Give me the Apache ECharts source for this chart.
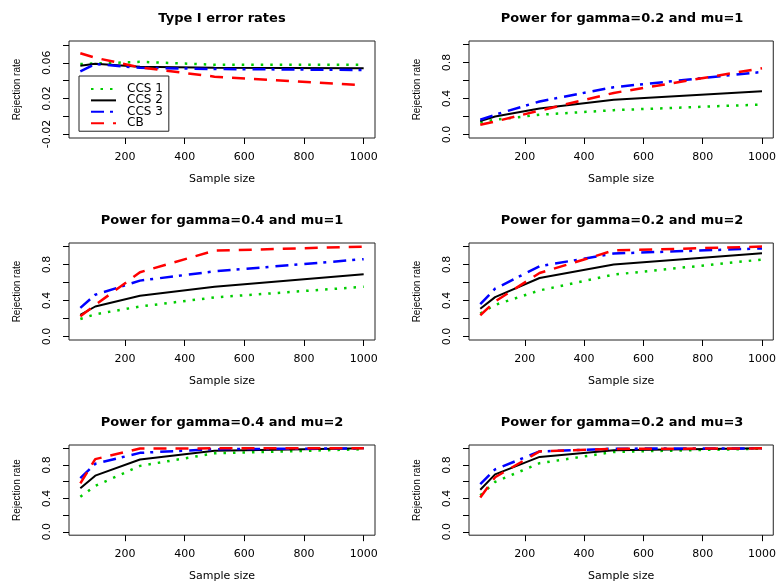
<html>

<head>
  <script src="https://cdn.jsdelivr.net/npm/echarts@6/dist/echarts.min.js"></script>
</head>

<body style="margin:0">
  <div id="main" style="width: 779px;height:588px;"></div>
  <script>
    var sampleSizes = [50, 100, 250, 500, 1000];
    var seriesNames = ['CCS 1', 'CCS 2', 'CCS 3', 'CB'];
    var panelTitles = ['Type I error rates', 'Power for gamma=0.2 and mu=1',
      'Power for gamma=0.4 and mu=1', 'Power for gamma=0.2 and mu=2',
      'Power for gamma=0.4 and mu=2', 'Power for gamma=0.2 and mu=3'];

    // type I error
    var ccs1_t1 = [0.0585, 0.0592, 0.0610, 0.0578, 0.0578];
    var ccs2_t1 = [0.0567, 0.0589, 0.0556, 0.0544, 0.0537];
    var ccs3_t1 = [0.0504, 0.0585, 0.0544, 0.0530, 0.0519];
    var cb_t1 = [0.0707, 0.0656, 0.0548, 0.0444, 0.0348];
    // gamma=0.2 mu=1
    var ccs1_g2m1 = [0.133, 0.163, 0.219, 0.270, 0.333];
    var ccs2_g2m1 = [0.148, 0.200, 0.289, 0.385, 0.481];
    var ccs3_g2m1 = [0.163, 0.219, 0.367, 0.526, 0.695];
    var cb_g2m1 = [0.107, 0.144, 0.265, 0.462, 0.737];
    // gamma=0.4 mu=1
    var ccs1_g4m1 = [0.194, 0.247, 0.333, 0.434, 0.553];
    var ccs2_g4m1 = [0.239, 0.333, 0.452, 0.553, 0.692];
    var ccs3_g4m1 = [0.318, 0.464, 0.621, 0.725, 0.860];
    var cb_g4m1 = [0.224, 0.350, 0.714, 0.955, 1.000];
    // gamma=0.2 mu=2
    var ccs1_g2m2 = [0.254, 0.351, 0.512, 0.688, 0.856];
    var ccs2_g2m2 = [0.307, 0.437, 0.650, 0.800, 0.927];
    var ccs3_g2m2 = [0.359, 0.531, 0.781, 0.923, 0.980];
    var cb_g2m2 = [0.236, 0.389, 0.706, 0.957, 1.000];
    // gamma=0.4 mu=2
    var ccs1_g4m2 = [0.420, 0.550, 0.790, 0.940, 0.990];
    var ccs2_g4m2 = [0.523, 0.673, 0.867, 0.972, 1.000];
    var ccs3_g4m2 = [0.643, 0.815, 0.946, 0.990, 1.000];
    var cb_g4m2 = [0.580, 0.871, 0.998, 1.000, 1.000];
    // gamma=0.2 mu=3
    var ccs1_g2m3 = [0.437, 0.598, 0.822, 0.957, 0.996];
    var ccs2_g2m3 = [0.505, 0.688, 0.897, 0.978, 1.000];
    var ccs3_g2m3 = [0.572, 0.748, 0.963, 0.996, 1.000];
    var cb_g2m3 = [0.411, 0.654, 0.963, 0.993, 1.000];

    var xTicks = [200, 400, 600, 800, 1000];
    var typeITicks = [-0.02, 0, 0.02, 0.04, 0.06, 0.08];
    var typeILabels = [-0.02, 0.02, 0.06];
    var powerTicks = [0, 0.2, 0.4, 0.6, 0.8, 1.0];
    var powerLabels = [0, 0.4, 0.8];

    var panelData = [
      [ccs1_t1, ccs2_t1, ccs3_t1, cb_t1],
      [ccs1_g2m1, ccs2_g2m1, ccs3_g2m1, cb_g2m1],
      [ccs1_g4m1, ccs2_g4m1, ccs3_g4m1, cb_g4m1],
      [ccs1_g2m2, ccs2_g2m2, ccs3_g2m2, cb_g2m2],
      [ccs1_g4m2, ccs2_g4m2, ccs3_g4m2, cb_g4m2],
      [ccs1_g2m3, ccs2_g2m3, ccs3_g2m3, cb_g2m3]
    ];

    var lineStyles = [
      { color: '#00CD00', width: 2.5, type: [2.5, 7] },
      { color: '#000000', width: 2, type: 'solid' },
      { color: '#0000FF', width: 2.5, type: [13, 6, 3, 7] },
      { color: '#FF0000', width: 2.5, type: [13, 9] }
    ];

    var font = 'DejaVu Sans';
    var rowTops = [41, 243, 445];
    var colLefts = [69, 469];
    var gridW = 306, gridH = 97;

    var grids = [], xAxes = [], yAxes = [], titles = [], seriesList = [];

    for (var i = 0; i < 6; i++) {
      var r = Math.floor(i / 2), c = i % 2;
      var isTypeI = i === 0;
      grids.push({
        left: colLefts[c], top: rowTops[r], width: gridW, height: gridH,
        show: true, borderColor: '#222', borderWidth: 1, backgroundColor: 'transparent'
      });
      titles.push({
        text: panelTitles[i],
        left: colLefts[c] + gridW / 2,
        top: rowTops[r] - 36,
        textAlign: 'center',
        padding: 0,
        textStyle: { fontFamily: font, fontWeight: 'bold', fontSize: 13, color: '#000' }
      });
      xAxes.push({
        type: 'value', gridIndex: i, min: 12, max: 1038,
        name: 'Sample size', nameLocation: 'middle', nameGap: 30, nameMoveOverlap: false,
        nameTextStyle: { fontFamily: font, fontSize: 11, color: '#000' },
        axisLine: { show: false, onZero: false },
        axisTick: { show: true, length: 6, customValues: xTicks, lineStyle: { color: '#000' } },
        axisLabel: {
          customValues: xTicks, margin: 8,
          fontFamily: font, fontSize: 11, color: '#000',
          formatter: function (v) { return String(v); }
        },
        splitLine: { show: false }
      });
      yAxes.push({
        type: 'value', gridIndex: i,
        min: isTypeI ? -0.0244 : -0.04,
        max: isTypeI ? 0.0844 : 1.04,
        name: 'Rejection rate', nameLocation: 'middle', nameGap: 43, nameRotate: 90, nameMoveOverlap: false,
        nameTextStyle: { fontFamily: 'Liberation Sans', fontSize: 10, color: '#000' },
        axisLine: { show: false, onZero: false },
        axisTick: { show: true, length: 6, customValues: isTypeI ? typeITicks : powerTicks, lineStyle: { color: '#000' } },
        axisLabel: {
          customValues: isTypeI ? typeILabels : powerLabels,
          rotate: 90, margin: 11,
          fontFamily: font, fontSize: 11, color: '#000',
          formatter: (function (t1) {
            return function (v) { return t1 ? v.toFixed(2) : v.toFixed(1); };
          })(isTypeI)
        },
        splitLine: { show: false }
      });
      for (var s = 0; s < 4; s++) {
        var vals = panelData[i][s];
        seriesList.push({
          name: seriesNames[s],
          type: 'line',
          xAxisIndex: i,
          yAxisIndex: i,
          symbol: 'none',
          silent: true,
          lineStyle: lineStyles[s],
          itemStyle: { color: lineStyles[s].color },
          data: sampleSizes.map(function (x, k) { return [x, vals[k]]; })
        });
      }
    }

    var myChart = echarts.init(document.getElementById('main'));
    option = {
      animation: false,
      backgroundColor: '#fff',
      title: titles,
      legend: {
        data: seriesNames,
        orient: 'vertical',
        left: 79,
        top: 76,
        itemWidth: 25,
        itemHeight: 12,
        itemGap: -12.3,
        padding: [1, 6, -4, 11],
        borderColor: '#222',
        borderWidth: 1,
        backgroundColor: '#fff',
        itemStyle: { opacity: 0 },
        textStyle: { fontFamily: font, fontSize: 12, color: '#000', lineHeight: 12, padding: [0, 0, 0, 6] }
      },
      grid: grids,
      xAxis: xAxes,
      yAxis: yAxes,
      series: seriesList
    };

    myChart.setOption(option);

  </script>
</body>

</html>
